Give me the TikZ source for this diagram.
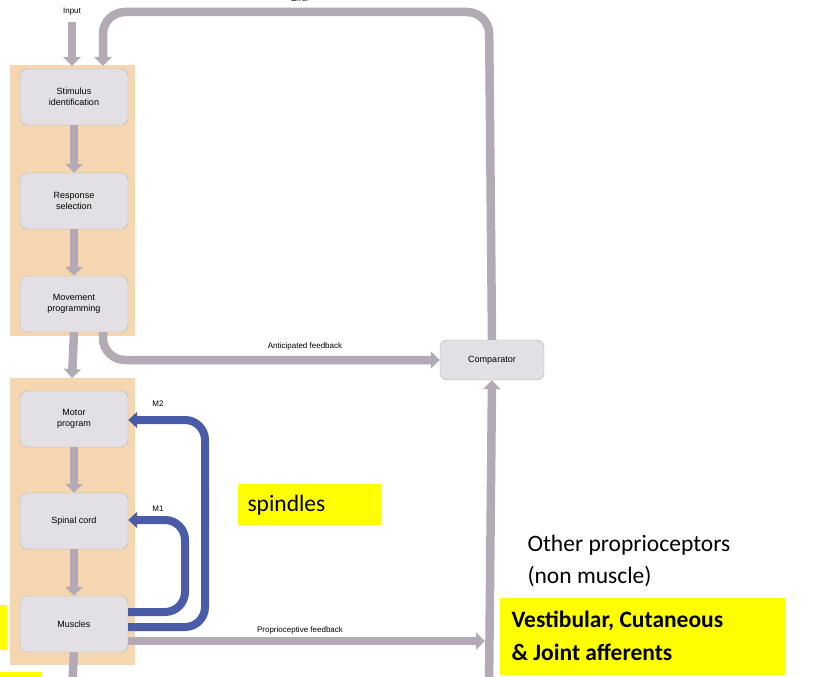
\documentclass[tikz,border=0pt]{standalone}
\usepackage{fontspec}
\setmainfont{Liberation Sans}
\newfontfamily\calfont{Carlito}
\usetikzlibrary{arrows.meta}
\definecolor{gr}{HTML}{B2ABB5}
\definecolor{bl}{HTML}{4A5BA8}
\definecolor{orb}{HTML}{F5D6B0}
\definecolor{bx}{HTML}{E2E0E4}
\definecolor{yl}{HTML}{FFFF00}
\begin{document}
\begin{tikzpicture}[x=1pt,y=-1pt,
  boxn/.style={draw=gray!60,fill=bx,rounded corners=7pt,minimum width=108pt,minimum height=56pt,font=\fontsize{9}{11}\selectfont,align=center},
  garrow/.style={gr,line width=8.5pt,-{Triangle[length=9pt,width=17pt]},rounded corners=22pt},
  gline/.style={gr,line width=8.5pt,rounded corners=22pt},
  barrow/.style={bl,line width=8pt,-{Triangle[length=9pt,width=16pt]},rounded corners=20pt},
  lab/.style={font=\fontsize{8}{10}\selectfont},
  big/.style={font=\calfont\fontsize{23.5}{28}\selectfont,anchor=west}]
\useasboundingbox (0,0) rectangle (814,677);
\clip (0,0) rectangle (814,677);
\fill[orb] (10,65) rectangle (135,336);
\fill[orb] (10,378) rectangle (135,665);
\node[boxn] (si) at (74,97) {Stimulus\\identification};
\node[boxn] (rs) at (74,201) {Response\\selection};
\node[boxn] (mp) at (74,304) {Movement\\programming};
\node[boxn] (mo) at (74,419) {Motor\\program};
\node[boxn] (sc) at (74,521) {Spinal cord};
\node[boxn] (mu) at (74,624) {Muscles};
\node[draw=gray!60,fill=bx,rounded corners=7pt,minimum width=104pt,minimum height=40pt,font=\fontsize{9}{11}\selectfont] (cp) at (492,360) {Comparator};
\node[lab] (in) at (72,12) {Input};
\node[lab] (er) at (300,-1) {Error};
\coordinate (inb) at (72,22);
\draw[garrow] (inb) -- (72,66);
\draw[garrow] (cp.north) -- (489,12) -- (103,12) -- (103,66);
\draw[garrow] (si.south) -- (rs.north);
\draw[garrow] (rs.south) -- (mp.north);
\draw[garrow] (mp.south) -- (72,378);
\draw[garrow] (mo.south) -- (sc.north);
\draw[garrow] (sc.south) -- (mu.north);
\draw[gline] (mu.south) -- (72,690);
\draw[garrow] (103,332) -- (103,360) -- (cp.west);
\node[lab] at (305,346) {Anticipated feedback};
\coordinate (pf) at (485,641);
\draw[garrow] (mu.east |- pf) -- (pf);
\node[lab] at (300,630) {Proprioceptive feedback};
\draw[garrow] (489,690) -- (cp.south);
\draw[barrow] (mu.east |- 0,627) -- (205,627) -- (205,420) -- (mo.east |- 0,420);
\draw[barrow] (mu.east |- 0,612) -- (185,612) -- (185,520) -- (sc.east |- 0,520);
\node[lab] at (158,404) {M2};
\node[lab] at (158,509) {M1};
\fill[yl] (238,484) rectangle (381,525);
\node[big] at (244,505) {spindles};
\fill[yl] (0,605) rectangle (7,650);
\fill[yl] (0,672) rectangle (42,677);
\node[big,align=left,font=\calfont\fontsize{23.5}{32}\selectfont] at (524,561) {Other proprioceptors\\(non muscle)};
\fill[yl] (500,598) rectangle (785,675);
\node[big,font=\calfont\bfseries\fontsize{23.5}{33}\selectfont,align=left] at (508,636) {Vestibular, Cutaneous\\\& Joint afferents};
\end{tikzpicture}
\end{document}
